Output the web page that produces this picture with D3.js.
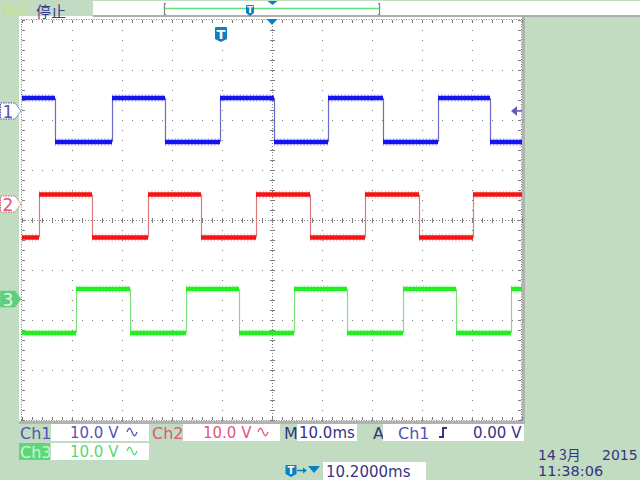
<!DOCTYPE html>
<html>
<head>
<meta charset="utf-8">
<script src="https://cdn.jsdelivr.net/npm/d3@7"></script>
<style>
  body { margin: 0; background: #c1dcc1; }
  svg { display: block; }
</style>
</head>
<body>
<svg></svg>
<script>
var screenWidth = 640
var screenHeight = 480
var background = "#c1dcc1"
var navy = "#35357f"
var tekBlue = "#0a80c4"
var gridColor = "#7d7d7d"

var channels = ["Ch1", "Ch2", "Ch3"]
var traceColors = ["#1414f0", "#f51414", "#22ee22"]
var edgeColors = ["#6a6ac8", "#e07878", "#80e080"]
var labelColors = ["#5454b4", "#e05878", "#58d878"]
var channelPos = [2.18, 0.32, -1.58]
var highLevel = [2.6, 1.9, 2.0]
var lowLevel = [-6.2, -6.7, -6.8]
var startHigh = [true, false, false]
var edgeTimes = [
  [6.6, 18.0, 28.6, 39.6, 50.4, 61.2, 72.2, 83.2, 93.6],
  [3.4, 14.0, 25.2, 35.8, 46.8, 57.6, 68.6, 79.4, 90.2],
  [10.8, 21.6, 32.8, 43.4, 54.4, 65.0, 76.2, 86.8, 97.8]
]
var voltsPerDiv = ["10.0 V", "10.0 V", "10.0 V"]
var timeBase = "10.0ms"
var triggerSource = "Ch1"
var triggerLevel = "0.00 V"
var triggerMs = 39.8
var horizDelay = "10.2000ms"
var dateParts = ["14", "3月", "2015"]
var clockText = "11:38:06"

var svg = d3.select("svg")
svg.attr("width", screenWidth)
svg.attr("height", screenHeight)

var x = d3.scaleLinear().domain([0, 100]).range([22, 522])
var y = d3.scaleLinear().domain([-40, 40]).range([420, 20])

function addText(text, tx, ty, color, size, family){
  return svg.append("text")
    .attr("x", tx)
    .attr("y", ty)
    .attr("font-family", family || "DejaVu Sans")
    .attr("font-size", size || 15)
    .attr("fill", color)
    .text(text)
}

function addBox(bx, by, w, h, color){
  svg.append("rect")
    .attr("x", bx).attr("y", by)
    .attr("width", w).attr("height", h)
    .attr("fill", color || "#fff")
}

function sineGlyph(gx, gy, color){
  var pts = d3.range(0, 1.01, 0.1).map(t => [gx + t * 10, gy - Math.sin(t * 2 * Math.PI) * 4])
  svg.append("path")
    .attr("d", d3.line().curve(d3.curveBasis)(pts))
    .attr("fill", "none")
    .attr("stroke", color)
    .attr("stroke-width", 1.3)
}

function tIcon(cx, top, w, h){
  var g = svg.append("g")
  g.append("path")
    .attr("d", "M" + (cx - w/2) + "," + (top + 1) + " q0,-1 1,-1 h" + (w - 2) + " q1,0 1,1 v" + (h - 4) +
         " l-" + (w/2) + ",3 l-" + (w/2) + ",-3 z")
    .attr("fill", tekBlue)
  g.append("text")
    .attr("x", cx).attr("y", top + h - 3.5)
    .attr("text-anchor", "middle")
    .attr("font-family", "DejaVu Sans")
    .attr("font-weight", "bold")
    .attr("font-size", h - 2)
    .attr("fill", "#fff")
    .text("T")
}

// screen
svg.append("rect").attr("width", screenWidth).attr("height", screenHeight).attr("fill", background)
addBox(19, 16, 503, 405)
svg.append("rect").attr("x", 522).attr("y", 16).attr("width", 3).attr("height", 408).attr("fill", "#b2b2b2")
svg.append("rect").attr("x", 19).attr("y", 421).attr("width", 506).attr("height", 3).attr("fill", "#b2b2b2")

var grid = svg.append("g").attr("fill", gridColor)
var minorX = d3.range(0, 100.01, 2)
var minorY = d3.range(-40, 40.01, 2)

x.ticks(10).filter(d => d > 0 && d < 100 && d != 50).forEach(function(t){
  grid.selectAll(null).data(minorY).join("rect")
    .attr("x", Math.round(x(t))).attr("y", d => Math.round(y(d)))
    .attr("width", 1).attr("height", 1)
})
y.ticks(8).filter(d => d > -40 && d < 40 && d != 0).forEach(function(t){
  grid.selectAll(null).data(minorX).join("rect")
    .attr("x", d => Math.round(x(d))).attr("y", Math.round(y(t)))
    .attr("width", 1).attr("height", 1)
})

// center cross
grid.append("line").attr("x1", x(50) + 0.5).attr("x2", x(50) + 0.5).attr("y1", 20).attr("y2", 420)
  .attr("stroke", gridColor).attr("stroke-dasharray", "1,2")
grid.append("line").attr("x1", 22).attr("x2", 522).attr("y1", y(0) + 0.5).attr("y2", y(0) + 0.5)
  .attr("stroke", gridColor).attr("stroke-dasharray", "1,2")
grid.selectAll(null).data(minorY).join("rect")
  .attr("x", x(50) - 2).attr("y", d => Math.round(y(d))).attr("width", 5).attr("height", 1)
grid.selectAll(null).data(minorX).join("rect")
  .attr("x", d => Math.round(x(d))).attr("y", y(0) - 2).attr("width", 1).attr("height", 5)

// frame
var frame = [[21.5, 19, 21.5, 421], [21, 19.5, 522, 19.5], [521.5, 19, 521.5, 421], [21, 420.5, 522, 420.5]]
frame.forEach(function(f){
  grid.append("line").attr("x1", f[0]).attr("y1", f[1]).attr("x2", f[2]).attr("y2", f[3])
    .attr("stroke", gridColor).attr("stroke-dasharray", "1,1.5")
})
grid.selectAll(null).data(minorY).join("rect")
  .attr("x", 22).attr("y", d => Math.round(y(d))).attr("width", 3).attr("height", 1)
grid.selectAll(null).data(minorY).join("rect")
  .attr("x", 518).attr("y", d => Math.round(y(d))).attr("width", 3).attr("height", 1)
grid.selectAll(null).data(minorX).join("rect")
  .attr("x", d => Math.round(x(d))).attr("y", 20).attr("width", 1).attr("height", 3)
grid.selectAll(null).data(minorX).join("rect")
  .attr("x", d => Math.round(x(d))).attr("y", 417).attr("width", 1).attr("height", 3)

// traces
channels.forEach(function(ch, i){
  var hi = y(channelPos[i] * 10 + highLevel[i])
  var lo = y(channelPos[i] * 10 + lowLevel[i])
  var times = [0].concat(edgeTimes[i]).concat([100])
  var levels = []
  var state = startHigh[i]
  for (var k = 0; k < times.length - 1; k++){
    levels.push({x0: times[k], x1: times[k + 1], yy: state ? hi : lo})
    state = !state
  }
  var g = svg.append("g")
  g.selectAll(null).data(edgeTimes[i]).join("line")
    .attr("x1", d => Math.round(x(d)) + 0.5).attr("x2", d => Math.round(x(d)) + 0.5)
    .attr("y1", hi).attr("y2", lo)
    .attr("stroke", edgeColors[i]).attr("stroke-width", 1.2)
  g.selectAll(null).data(levels).join("line")
    .attr("x1", d => x(d.x0)).attr("x2", d => x(d.x1))
    .attr("y1", d => d.yy).attr("y2", d => d.yy)
    .attr("stroke", traceColors[i]).attr("stroke-width", 8).attr("opacity", 0.3)
    .attr("stroke-dasharray", "1,2.3")
  g.selectAll(null).data(levels).join("line")
    .attr("x1", d => x(d.x0)).attr("x2", d => x(d.x1))
    .attr("y1", d => d.yy).attr("y2", d => d.yy)
    .attr("stroke", traceColors[i]).attr("stroke-width", 4.5)
})

// channel ground markers
var markerFill = ["#fff", "#fff", "#5cd07a"]
var markerText = ["#5454b4", "#e05878", "#e4fae4"]
var markerStroke = ["#5454b4", "#e05878", "#5cd07a"]
channels.forEach(function(ch, i){
  var my = y(channelPos[i] * 10)
  svg.append("path")
    .attr("d", "M0.5," + (my - 8) + " H15 L21," + my + " L15," + (my + 8) + " H0.5 Z")
    .attr("fill", markerFill[i])
    .attr("stroke", markerStroke[i])
    .attr("stroke-dasharray", "1.5,1")
  svg.append("text")
    .attr("x", 8).attr("y", my + 6.5)
    .attr("text-anchor", "middle")
    .attr("font-family", "DejaVu Sans")
    .attr("font-size", 17)
    .attr("fill", markerText[i])
    .text(i + 1)
})

// trigger level marker
var trigY = y(channelPos[0] * 10)
svg.append("path")
  .attr("d", "M511," + trigY + " L517," + (trigY - 5) + " L517," + (trigY + 5) + " Z")
  .attr("fill", "#6060b8")
svg.append("line").attr("x1", 516).attr("x2", 522).attr("y1", trigY).attr("y2", trigY)
  .attr("stroke", "#6060b8").attr("stroke-width", 1.5)

// top bar
addText("Tek", 0, 16, "#c8e28c", 17)
addText("停止", 36, 16.5, "#3a3a8a", 15, "Noto Sans CJK SC")
addBox(93, 1, 547, 14)
svg.append("rect").attr("x", 93).attr("y", 15).attr("width", 547).attr("height", 2).attr("fill", "#adadad")
svg.append("path").attr("d", "M166,3.5 H164.5 V14.5 H166 M378,3.5 H379.5 V14.5 H378")
  .attr("fill", "none").attr("stroke", "#808080").attr("stroke-width", 1.2)
svg.append("line").attr("x1", 165).attr("x2", 379).attr("y1", 8.5).attr("y2", 8.5)
  .attr("stroke", "#5ee07c").attr("stroke-width", 1.5)
tIcon(250, 5, 8, 11)
svg.append("path").attr("d", "M267.5,1 H277.5 L272.5,5 Z").attr("fill", tekBlue)
svg.append("path").attr("d", "M" + (x(50) - 5.5) + ",19 H" + (x(50) + 5.5) + " L" + x(50) + ",25 Z").attr("fill", tekBlue)
tIcon(x(triggerMs), 27, 12, 15)

// readouts
addText(channels[0], 20, 439, labelColors[0], 16)
addBox(51, 424, 98, 17)
addText(voltsPerDiv[0], 70, 438, labelColors[0])
sineGlyph(127, 432, labelColors[0])

addText(channels[1], 152, 439, labelColors[1], 16)
addBox(183, 424, 97, 17)
addText(voltsPerDiv[1], 203, 438, labelColors[1])
sineGlyph(258, 432, labelColors[1])

addText("M", 284, 439, navy, 16)
addBox(297, 424, 60, 17)
addText(timeBase, 299, 438, navy)

addText("A", 373, 439, navy, 16)
addBox(383, 424, 141, 17)
addText(triggerSource, 398, 439, labelColors[0], 16)
svg.append("path").attr("d", "M439,437 H443 V428 H447")
  .attr("fill", "none").attr("stroke", navy).attr("stroke-width", 2)
addText(triggerLevel, 473, 438, navy)

addBox(19, 443, 31, 17, "#5cd87a")
addText(channels[2], 20, 458, "#cdf3cd", 16)
addBox(51, 443, 98, 17)
addText(voltsPerDiv[2], 70, 457, labelColors[2])
sineGlyph(127, 451, labelColors[2])

tIcon(291, 465, 11, 12)
svg.append("line").attr("x1", 297).attr("x2", 305).attr("y1", 470.5).attr("y2", 470.5)
  .attr("stroke", tekBlue).attr("stroke-width", 1.5)
svg.append("path").attr("d", "M303,467.5 L307,470.5 L303,473.5 Z").attr("fill", tekBlue)
svg.append("path").attr("d", "M308,466 H320 L314,473 Z").attr("fill", tekBlue)
addBox(323, 462, 103, 18)
addText(horizDelay, 326, 477, navy)

addText(dateParts[0], 538, 460, navy, 14)
addText(dateParts[1], 559, 460, navy, 14, "Noto Sans CJK SC")
addText(dateParts[2], 602, 460, navy, 14)
addText(clockText, 538, 475.5, navy, 14.5)
</script>
</body>
</html>
